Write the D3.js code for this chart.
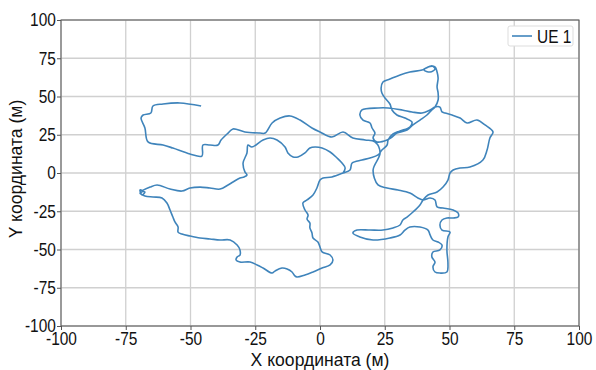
<!DOCTYPE html>
<html>
<head>
<meta charset="utf-8">
<script src="https://cdn.jsdelivr.net/npm/d3@7"></script>
<style>
  body { margin:0; background:#fff; }
  svg text { font-family: "Liberation Sans", Arial, sans-serif; fill:#111; }
</style>
</head>
<body>
<svg id="chart" width="596" height="370"></svg>
<script>
// trajectory of UE 1 (metres)
var xs = [-45.9,-54.1,-60.6,-64.5,-65.3,-68.3,-69.1,-67.6,-66.4,-60.6,-56.8,-50.2,-45.6,-45.2,-42.5,-39.4,-38.2,-35.5,-33.6,-29.0,-23.2,-21.2,-18.5,-15.4,-11.6,-7.7,-3.1,0,4.6,8.9,12.7,17.4,21.2,
  23.2,20.5,22.4,25.9,30.1,34.7,37.8,39.8,42.5,44.4,45.2,47.5,51.4,53.3,53.3,51.4,49.0,47.1,46.3,47.1,50.2,49.4,49.0,49.4,49.0,46.3,44.4,43.6,44.4,43.2,43.6,46.3,47.1,45.6,43.6,42.5,41.7,38.6,34.7,32.8,30.9,27.0,20.5,15.4,12.7,14.3,19.3,24.3,28.2,30.9,32.0,33.6,35.9,38.6,39.8,41.7,45.2,47.5,49.4,50.2,51.4,54.1,57.9,62.9,64.5,65.6,66.8,63.7,60.6,56.8,54.1,51.0,48.3,47.1,46.3,44.4,42.5,39.4,35.5,31.7,26.3,22.4,16.2,15.4,16.6,19.3,20.1,21.2,20.5,22.0,25.9,27.8,29.7,33.6,35.9,38.6,41.3,43.2,44.4,45.6,45.6,45.2,45.6,45.2,
  44.4,41.7,40.2,42.5,44.4,43.2,40.9,39.4,34.7,30.9,27.0,24.3,23.6,23.9,25.1,27.0,27.8,29.7,32.8,35.5,34.7,30.9,28.2,26.3,25.9,23.9,22.4,19.3,16.2,12.4,11.6,8.9,4.6,1.2,0,-1.2,-2.7,-5.0,-6.6,-5.8,-4.6,-5.0,-3.9,-3.9,-3.1,-2.7,-0.8,0,0.8,3.9,5.0,3.9,0.8,-2.7,-5.8,-8.9,-9.7,-10.8,-12.7,-14.7,-17.4,-18.5,-22.0,-24.3,-27.0,-30.9,-32.4,-32.0,-30.9,-30.9,-32.0,-34.7,-38.6,-42.5,-46.3,-50.2,-53.3,-54.8,-54.8,-56.0,-56.8,-57.9,-59.1,-61.0,-64.5,-67.6,
  -69.5,-68.3,-69.5,-68.7,-67.6,-68.7,-65.6,-62.9,-57.9,-53.3,-50.2,-46.3,-42.5,-38.6,-35.5,-33.6,-30.9,-29.3,-28.2,-29.0,-29.7,-28.2,-27.8,-26.3,-22.0,-19.3,-16.6,-13.5,-12.4,-10.4,-8.5,-5.8,-3.9,-1.9,0.8,3.9,6.6,8.5,9.7,8.9];
var ys = [43.8,45.8,45.1,43.8,39.2,37.9,35.9,29.4,20.3,18.3,16.3,12.4,11.1,18.3,18.3,18.3,21.6,26.1,28.8,26.8,26.1,26.1,32.7,35.9,37.3,34.6,29.4,26.8,23.5,26.8,22.9,21.6,20.3,
  13.1,2.0,-7.8,-9.8,-11.1,-13.1,-16.3,-17.6,-16.3,-17.6,-22.2,-22.9,-24.2,-26.1,-28.8,-29.4,-29.4,-30.7,-34.0,-37.3,-38.6,-41.8,-50.3,-58.8,-64.7,-65.4,-64.7,-61.4,-58.2,-54.9,-51.6,-50.3,-47.1,-45.1,-43.8,-40.5,-37.3,-35.3,-35.3,-37.3,-40.5,-42.5,-43.8,-41.8,-39.2,-37.3,-37.3,-37.3,-35.9,-34.0,-30.7,-28.8,-25.5,-20.9,-17.6,-14.4,-12.4,-9.2,-4.6,0,2.0,3.3,3.9,8.5,15.0,22.9,26.8,31.4,34.6,32.7,35.9,37.9,39.2,39.9,43.1,43.1,41.2,39.2,39.9,41.2,42.5,42.5,41.2,37.9,34.6,32.7,29.4,26.1,22.9,20.3,21.6,23.5,26.1,28.1,31.4,34.6,37.9,41.2,43.1,47.7,52.3,56.2,62.1,66.0,
  69.3,69.3,67.3,66.0,68.0,69.9,68.6,67.3,66.0,64.1,61.4,59.5,55.6,52.3,49.0,45.1,41.2,37.9,35.9,33.3,30.1,27.5,25.5,21.6,18.3,15.0,11.8,9.8,8.5,6.5,2.0,0,-2.6,-3.3,-4.6,-9.8,-14.4,-17.6,-19.6,-24.2,-27.5,-30.1,-32.7,-35.9,-39.2,-42.5,-45.1,-48.4,-51.6,-53.6,-56.9,-60.1,-62.1,-64.7,-66.7,-68.0,-67.3,-64.7,-62.7,-62.1,-64.1,-65.4,-62.1,-60.1,-58.2,-58.2,-56.9,-54.9,-53.6,-50.3,-47.1,-43.8,-43.8,-43.1,-42.5,-41.2,-39.9,-38.6,-35.3,-32.0,-28.8,-24.2,-19.6,-16.3,-15.7,-15.0,
  -13.1,-11.8,-11.1,-14.4,-12.4,-11.8,-9.2,-7.8,-10.5,-11.8,-9.8,-9.2,-9.8,-10.5,-7.8,-5.9,-3.3,-2.6,-1.3,0.7,6.5,13.1,18.3,17.0,21.6,22.9,21.6,17.0,13.1,10.5,10.5,13.1,16.3,17.0,16.3,13.7,9.8,6.5,3.3,0];
var xTicks = [-100,-75,-50,-25,0,25,50,75,100];
var yTicks = [-100,-75,-50,-25,0,25,50,75,100];
var seriesName = "UE 1";
var xTitle = "X координата (м)", yTitle = "Y координата (м)";

var svg = d3.select("#chart");
var M = {left:61, right:579, top:20, bottom:326};
var lineColor = "#3f84bb";
var squeeze = "scale(0.86,1)", squeezeTitle = "scale(0.95,1)";

var x = d3.scaleLinear().domain([-100,100]).range([M.left,M.right]);
var y = d3.scaleLinear().domain([-100,100]).range([M.bottom,M.top]);

//grid
var grid = svg.append("g");
grid.selectAll(".gx").data(xTicks).enter().append("line")
  .attr("x1",function(d){ return x(d); }).attr("x2",function(d){ return x(d); })
  .attr("y1",M.top).attr("y2",M.bottom)
  .style("stroke","#d0d0d0").style("stroke-width",1.3);
grid.selectAll(".gy").data(yTicks).enter().append("line")
  .attr("x1",M.left).attr("x2",M.right)
  .attr("y1",function(d){ return y(d); }).attr("y2",function(d){ return y(d); })
  .style("stroke","#d0d0d0").style("stroke-width",1.3);

//trajectory
var pts = xs.map(function(v,i){ return [v, ys[i]]; });
var line = d3.line().x(function(d){ return x(d[0]); }).y(function(d){ return y(d[1]); }).curve(d3.curveCatmullRom.alpha(0.5));
svg.append("path").datum(pts)
  .attr("d", line)
  .style("fill","none").style("stroke",lineColor).style("stroke-width",1.6).style("stroke-linejoin","round");

//frame
svg.append("rect").attr("x",M.left).attr("y",M.top).attr("width",M.right-M.left).attr("height",M.bottom-M.top)
  .style("fill","none").style("stroke","#555").style("stroke-width",1);

//axes
var fmt = function(d){ return String(d); };
var xAxis = d3.axisBottom(x).tickValues(xTicks).tickSize(4).tickPadding(2).tickFormat(fmt);
var yAxis = d3.axisLeft(y).tickValues(yTicks).tickSize(4).tickPadding(2).tickFormat(fmt);
var gx = svg.append("g").attr("transform","translate(0,"+M.bottom+")").call(xAxis);
var gy = svg.append("g").attr("transform","translate("+M.left+",0)").call(yAxis);
[gx,gy].forEach(function(g){
  g.select(".domain").remove();
  g.selectAll(".tick line").style("stroke","#555");
  g.selectAll(".tick text").style("font-size","18px").style("font-family",null).style("fill","#111")
    .attr("transform",squeeze);
});

svg.append("g").attr("transform","translate("+((M.left+M.right)/2)+",366)")
  .append("text").attr("text-anchor","middle").attr("transform",squeezeTitle)
  .style("font-size","18.5px").text(xTitle);
svg.append("g").attr("transform","translate(22,"+((M.top+M.bottom)/2-4)+") rotate(-90)")
  .append("text").attr("text-anchor","middle").attr("transform",squeezeTitle)
  .style("font-size","18.5px").text(yTitle);

//legend
var lg = svg.append("g").attr("transform","translate(508,26)");
lg.append("rect").attr("width",65).attr("height",20).attr("rx",2)
  .style("fill","#fff").style("stroke","#ddd");
lg.append("line").attr("x1",4).attr("x2",24).attr("y1",10).attr("y2",10)
  .style("stroke",lineColor).style("stroke-width",1.6);
lg.append("g").attr("transform","translate(29,16.5)")
  .append("text").attr("transform",squeeze).style("font-size","18px").text(seriesName);
</script>
</body>
</html>
